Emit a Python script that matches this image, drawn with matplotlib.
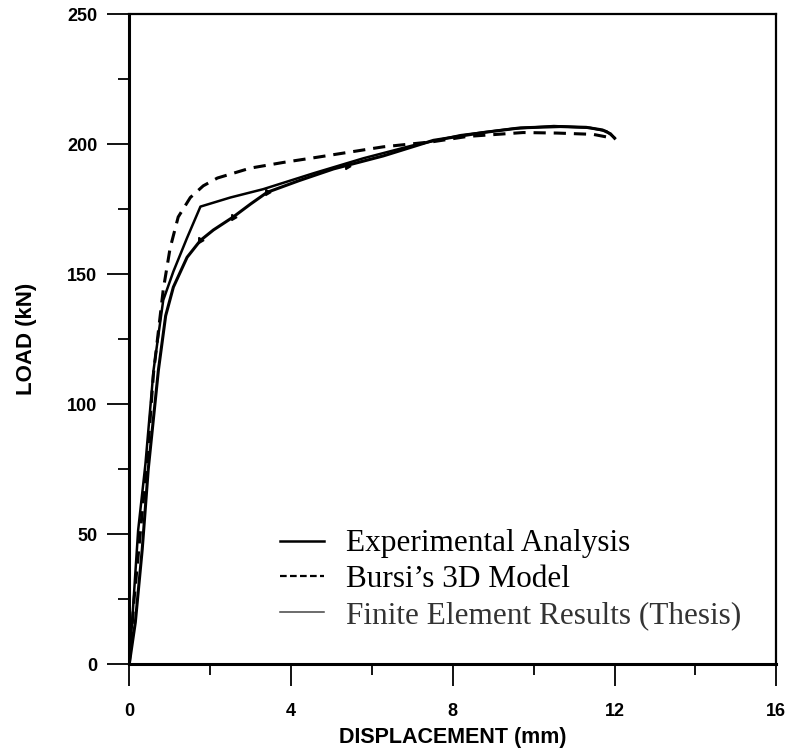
import matplotlib
matplotlib.use("Agg")
import matplotlib.pyplot as plt
from matplotlib.lines import Line2D

# load-displacement curves (mm, kN)
exp_x = [0, 0.15, 0.32, 0.47, 0.72, 0.9, 1.09, 1.43, 1.76, 2.08, 2.57, 3.0, 3.41,
         4.2, 5.05, 6.28, 7.52, 8.75, 9.67, 10.66, 11.3, 11.7, 11.9, 12.0]
exp_y = [0, 16, 44, 75, 113, 134, 145, 156.5, 163, 167, 172, 177, 181.5,
         186, 190.5, 195.5, 201.5, 204.5, 206.3, 206.8, 206.5, 205.5, 204, 202.3]

bursi_x = [0, 0.12, 0.3, 0.45, 0.6, 0.84, 1.01, 1.21, 1.51, 1.83, 2.18, 2.99, 3.81,
           4.65, 5.46, 6.28, 7.52, 8.36, 9.74, 10.58, 11.47, 11.97]
bursi_y = [0, 25, 55, 80, 112, 144, 160, 172, 179.5, 184, 187, 190.8, 193,
           195, 197, 199, 201, 203, 204.5, 204.3, 203.8, 202.3]

fe_x = [0, 0.1, 0.22, 0.4, 0.6, 0.84, 1.09, 1.43, 1.76, 2.5, 3.31, 4.55, 5.79,
        7.0, 8.2, 9.5, 10.5, 11.4, 11.8, 12.0]
fe_y = [0, 23, 51.5, 77, 113, 140, 151, 164, 176, 179.5, 182.7, 188.8, 194.6,
        199.5, 203.5, 206, 207, 206.3, 205, 202.5]

# small arrow marks along the experimental curve
arrow_x = [1.76, 2.57, 3.41, 5.39]
arrow_y = [163, 172, 181.5, 191.5]

x_ticks = [0, 4, 8, 12, 16]
y_ticks = [0, 50, 100, 150, 200, 250]

fig = plt.figure(figsize=(7.93, 7.52), dpi=100)
ax = fig.add_axes([0.163, 0.117, 0.816, 0.864])

ax.plot(exp_x, exp_y, color="black", lw=2.2, solid_joinstyle="round")
ax.plot(fe_x, fe_y, color="black", lw=1.8, solid_joinstyle="round")
ax.plot(bursi_x, bursi_y, color="black", lw=2.2, ls=(0, (4, 2.6)))
ax.plot(arrow_x, arrow_y, ls="none", marker=(3, 0, 30), ms=5, color="black")

ax.set_xlim(0, 16)
ax.set_ylim(0, 250)
ax.set_xticks(x_ticks)
ax.set_yticks(y_ticks)
ax.set_xticks([2, 6, 10, 14], minor=True)
ax.set_yticks([25, 75, 125, 175, 225], minor=True)
ax.tick_params(which="major", direction="out", length=16, width=1.3,
               labelsize=13)
ax.tick_params(axis="x", which="major", pad=12)
ax.tick_params(axis="y", which="major", pad=7)
ax.tick_params(which="minor", direction="out", length=8, width=1.3)
for lab in ax.get_xticklabels() + ax.get_yticklabels():
    lab.set_fontfamily("Liberation Sans")
    lab.set_fontweight("bold")

for side in ["left", "bottom"]:
    ax.spines[side].set_linewidth(2.2)
for side in ["top", "right"]:
    ax.spines[side].set_linewidth(1.6)

ax.set_xlabel("DISPLACEMENT (mm)", fontsize=15.5, family="Liberation Sans",
              fontweight="bold", labelpad=5)
ax.set_ylabel("LOAD (kN)", fontsize=16, family="Liberation Sans",
              fontweight="bold", labelpad=22)

handles = [
    Line2D([], [], color="black", lw=1.8),
    Line2D([], [], color="black", lw=1.6, ls=(0, (3, 1.5))),
    Line2D([], [], color="#444444", lw=1.1),
]
labels = ["Experimental Analysis", "Bursi\u2019s 3D Model",
          "Finite Element Results (Thesis)"]
leg = ax.legend(handles, labels, loc="lower left", bbox_to_anchor=(0.233, 0.052),
                frameon=False, prop={"family": "Liberation Serif", "size": 22.5},
                handlelength=1.4, handletextpad=0.7, labelspacing=0.22,
                borderpad=0, borderaxespad=0)
leg.get_texts()[2].set_color("#333333")

fig.savefig("out.png", dpi=100)
